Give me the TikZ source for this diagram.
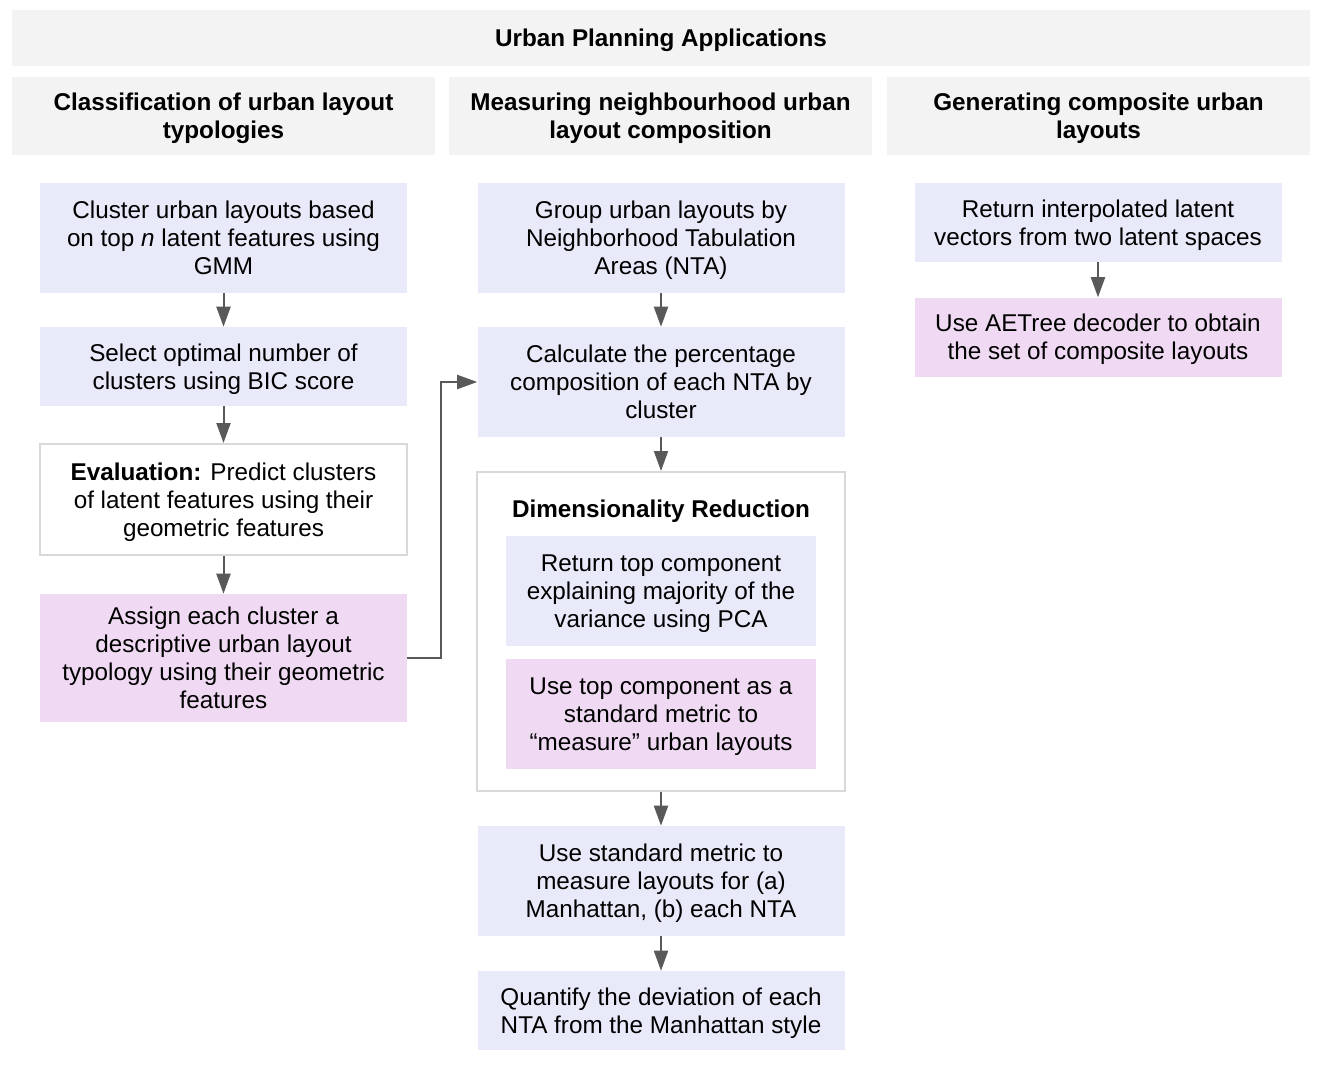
\documentclass[tikz,border=0pt]{standalone}
\usepackage{fontspec}
\setmainfont{Liberation Sans}
\usetikzlibrary{positioning,
				arrows.meta}
\definecolor{hdrgray}{HTML}{F3F3F3}
\definecolor{boxblue}{HTML}{E8EAFA}
\definecolor{boxpink}{HTML}{F0DAF3}
\definecolor{edgegray}{HTML}{D9D9D9}
\definecolor{arrowgray}{HTML}{595959}

\begin{document}
\begin{tikzpicture}[x=0.75pt,y=-0.75pt,
		every node/.style={font=\fontsize{18.2}{21}\selectfont, align=center, inner sep=0pt, text depth=0pt},
		hdr/.style={fill=hdrgray, font=\fontsize{18.2}{21}\selectfont\bfseries},
		colhead/.style={hdr, minimum width=423*0.75pt, minimum height=78*0.75pt},
		task/.style={minimum width=367*0.75pt},
		bluebox/.style={task, fill=boxblue},
		pinkbox/.style={task, fill=boxpink},
		evalbox/.style={task, draw=edgegray, line width=1.5pt, fill=white},
		flow/.style={draw=arrowgray, line width=1.5pt, -{Triangle[length=15pt,width=10.5pt]}}]
		\useasboundingbox (0,0) rectangle (1324,1068);
		% headers
		\node[hdr, minimum width=1298*0.75pt, minimum height=56*0.75pt] (title) at (661,38) {Urban Planning Applications};
		\node[colhead] (classhead) at (223.5,116) {Classification of urban layout\\ typologies};
		\node[colhead] (measurehead) at (660.5,116) {Measuring neighbourhood urban\\ layout composition};
		\node[colhead] (generatehead) at (1098.5,116) {Generating composite urban\\ layouts};
		% classification
		\node[bluebox, minimum height=110*0.75pt] (cluster) at (223.5,238) {Cluster urban layouts based\\ on top \textit{n} latent features using\\ GMM};
		\node[bluebox, minimum height=79*0.75pt] (select) at (223.5,366.5) {Select optimal number of\\ clusters using BIC score};
		\node[evalbox, minimum height=111*0.75pt] (evaluate) at (223.5,499.5) {\textbf{Evaluation:} Predict clusters\\ of latent features using their\\ geometric features};
		\node[pinkbox, minimum height=128*0.75pt] (assign) at (223.5,658) {Assign each cluster a\\ descriptive urban layout\\ typology using their geometric\\ features};
		% measuring
		\node[bluebox, minimum height=110*0.75pt] (group) at (661,238) {Group urban layouts by\\ Neighborhood Tabulation\\ Areas (NTA)};
		\node[bluebox, minimum height=110*0.75pt] (percent) at (661,382) {Calculate the percentage\\ composition of each NTA by\\ cluster};
		\node[evalbox, minimum width=368*0.75pt, minimum height=319*0.75pt] (reduce) at (661,631.5) {};
		\node[font=\fontsize{18.2}{21}\selectfont\bfseries] (reducetitle) at (661,509) {Dimensionality Reduction};
		\node[bluebox, minimum width=310*0.75pt, minimum height=110*0.75pt] (pca) at (661,591) {Return top component\\ explaining majority of the\\ variance using PCA};
		\node[pinkbox, minimum width=310*0.75pt, minimum height=110*0.75pt] (metric) at (661,714) {Use top component as a\\ standard metric to\\ “measure” urban layouts};
		\node[bluebox, minimum height=110*0.75pt] (usemetric) at (661,881) {Use standard metric to\\ measure layouts for (a)\\ Manhattan, (b) each NTA};
		\node[bluebox, minimum height=79*0.75pt] (deviation) at (661,1010.5) {Quantify the deviation of each\\ NTA from the Manhattan style};
		% generating
		\node[bluebox, minimum height=79*0.75pt] (interp) at (1098,222.5) {Return interpolated latent\\ vectors from two latent spaces};
		\node[pinkbox, minimum height=79*0.75pt] (decode) at (1098,337) {Use AETree decoder to obtain\\ the set of composite layouts};
		% arrows
		\draw[flow] (cluster) -- (select);
		\draw[flow] (select) -- (evaluate);
		\draw[flow] (evaluate) -- (assign);
		\draw[flow] (assign.east) -- ++(34,0) |- (percent.west);
		\draw[flow] (group) -- (percent);
		\draw[flow] (percent) -- (reduce);
		\draw[flow] (reduce) -- (usemetric);
		\draw[flow] (usemetric) -- (deviation);
		\draw[flow] (interp) -- (decode);
	\end{tikzpicture}
\end{document}
